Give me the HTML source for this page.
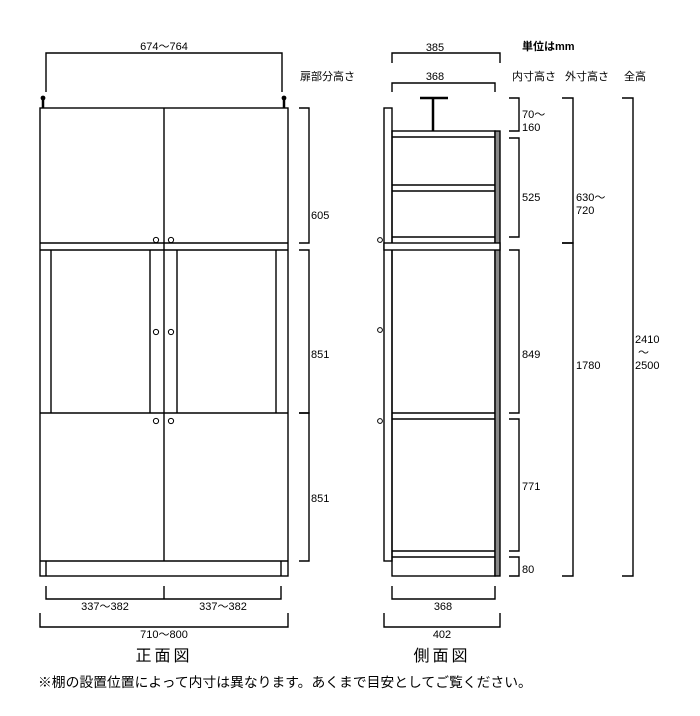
<!DOCTYPE html>
<html><head><meta charset="utf-8"><style>
html,body{margin:0;padding:0;background:#fff;width:700px;height:716px;overflow:hidden}
svg text{font-family:"Liberation Sans","Noto Sans CJK JP",sans-serif;fill:#000}
</style></head><body>
<svg width="700" height="716" viewBox="0 0 700 716" xmlns="http://www.w3.org/2000/svg">
<g fill="none" stroke="#000" stroke-width="1.4">
<rect x="40" y="108" width="248" height="468"/>
<line x1="164" y1="108" x2="164" y2="561"/>
<line x1="40" y1="243" x2="288" y2="243"/>
<line x1="40" y1="250" x2="288" y2="250"/>
<line x1="40" y1="413" x2="288" y2="413"/>
<line x1="40" y1="561" x2="288" y2="561"/>
<line x1="51" y1="250" x2="51" y2="413"/>
<line x1="150" y1="250" x2="150" y2="413"/>
<line x1="177" y1="250" x2="177" y2="413"/>
<line x1="276" y1="250" x2="276" y2="413"/>
<line x1="46" y1="561" x2="46" y2="576"/>
<line x1="281" y1="561" x2="281" y2="576"/>
<g stroke-width="1">
<circle cx="156" cy="240" r="2.6"/><circle cx="171" cy="240" r="2.6"/>
<circle cx="156" cy="332" r="2.6"/><circle cx="171" cy="332" r="2.6"/>
<circle cx="156" cy="421" r="2.6"/><circle cx="171" cy="421" r="2.6"/>
</g>
<line x1="43" y1="99" x2="43" y2="108" stroke-width="2.5"/>
<line x1="284" y1="99" x2="284" y2="108" stroke-width="2.5"/>
<polyline points="46,92 46,53 282,53 282,92"/>
<polyline points="299,108 309,108 309,243 299,243"/>
<polyline points="299,250 309,250 309,413 299,413"/>
<polyline points="299,413 309,413 309,561 299,561"/>
<polyline points="46,586 46,599 281,599 281,586"/>
<line x1="164" y1="586" x2="164" y2="599"/>
<polyline points="40,613 40,627 288,627 288,613"/>

<rect x="384" y="108" width="8" height="453"/>
<rect x="392" y="131" width="103" height="445"/>
<rect x="495" y="131" width="5" height="445" fill="#888"/>
<line x1="392" y1="137" x2="495" y2="137"/>
<line x1="392" y1="185" x2="495" y2="185"/>
<line x1="392" y1="191" x2="495" y2="191"/>
<line x1="392" y1="237" x2="495" y2="237"/>
<rect x="384" y="243" width="116" height="7" fill="#fff"/>
<line x1="392" y1="413" x2="495" y2="413"/>
<line x1="392" y1="419" x2="495" y2="419"/>
<line x1="392" y1="551" x2="495" y2="551"/>
<line x1="392" y1="557" x2="495" y2="557"/>
<line x1="420" y1="98" x2="448" y2="98" stroke-width="2.5"/>
<line x1="433" y1="98" x2="433" y2="131" stroke-width="2.5"/>
<g stroke-width="1">
<circle cx="380" cy="240" r="2.4"/><circle cx="380" cy="330" r="2.4"/><circle cx="380" cy="421" r="2.4"/>
</g>
<polyline points="392,63 392,53 500,53 500,63"/>
<polyline points="392,92 392,83 495,83 495,92"/>
<polyline points="509,98 519,98 519,131 509,131"/>
<polyline points="509,138 519,138 519,237 509,237"/>
<polyline points="509,250 519,250 519,413 509,413"/>
<polyline points="509,419 519,419 519,551 509,551"/>
<polyline points="509,557 519,557 519,576 509,576"/>
<polyline points="562,98 573,98 573,243 562,243"/>
<polyline points="562,243 573,243 573,576 562,576"/>
<polyline points="622,98 633,98 633,576 622,576"/>
<polyline points="392,586 392,599 495,599 495,586"/>
<polyline points="384,613 384,627 500,627 500,613"/>
</g>
<g fill="#000">
<circle cx="43" cy="98" r="2.4"/><circle cx="284" cy="98" r="2.4"/>
</g>
<g font-size="11">
<text x="164" y="50" text-anchor="middle">674～764</text>
<text x="300" y="80">扉部分高さ</text>
<text x="311" y="219">605</text>
<text x="311" y="358">851</text>
<text x="311" y="502">851</text>
<text x="105" y="610" text-anchor="middle">337～382</text>
<text x="223" y="610" text-anchor="middle">337～382</text>
<text x="164" y="638" text-anchor="middle">710～800</text>
<text x="435" y="51" text-anchor="middle">385</text>
<text x="435" y="80" text-anchor="middle">368</text>
<text x="522" y="50" font-weight="bold">単位はmm</text>
<text x="512" y="80">内寸高さ</text>
<text x="565" y="80">外寸高さ</text>
<text x="624" y="80">全高</text>
<text x="522" y="118">70～</text>
<text x="522" y="131">160</text>
<text x="522" y="201">525</text>
<text x="522" y="358">849</text>
<text x="522" y="490">771</text>
<text x="522" y="573">80</text>
<text x="576" y="201">630～</text>
<text x="576" y="214">720</text>
<text x="576" y="369">1780</text>
<text x="635" y="343">2410</text>
<text x="638" y="356">～</text>
<text x="635" y="369">2500</text>
<text x="443" y="610" text-anchor="middle">368</text>
<text x="442" y="638" text-anchor="middle">402</text>
</g>
<text x="164" y="661" text-anchor="middle" font-size="16" letter-spacing="3">正面図</text>
<text x="442" y="661" text-anchor="middle" font-size="16" letter-spacing="3">側面図</text>
<text x="38" y="687" font-size="13.8">※棚の設置位置によって内寸は異なります。あくまで目安としてご覧ください。</text>
</svg>
</body></html>
